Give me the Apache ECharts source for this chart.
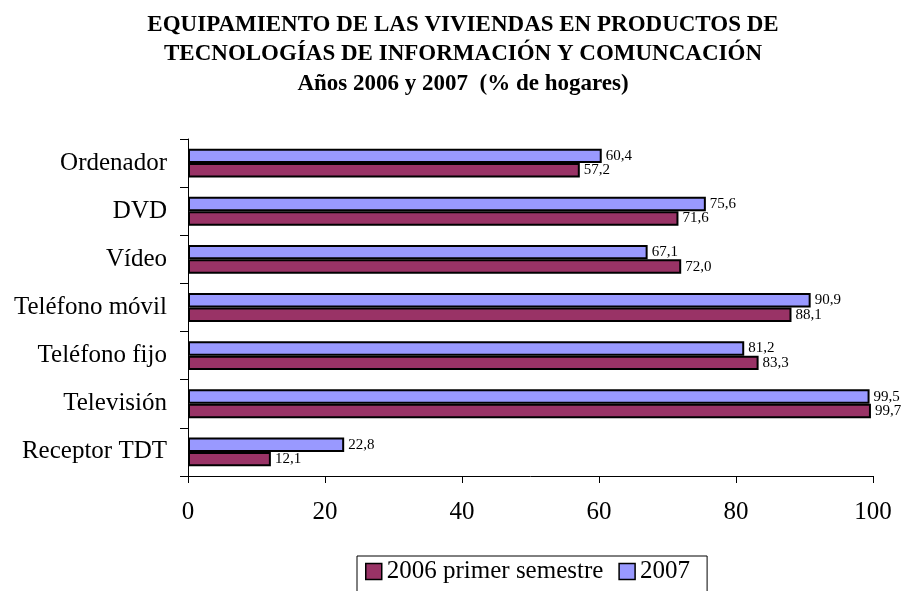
<!DOCTYPE html>
<html>
<head>
<meta charset="utf-8">
<script src="https://cdn.jsdelivr.net/npm/echarts@6/dist/echarts.min.js"></script>
<style>
    html, body { margin: 0; padding: 0; background: #fff; }
    #chart { width: 908px; height: 591px; }
</style>
</head>
<body>
<div id="chart"></div>
<script>
    // categorias de abajo hacia arriba (eje vertical)
    var categories = ['Receptor TDT', 'Televisión', 'Teléfono fijo', 'Teléfono móvil', 'Vídeo', 'DVD', 'Ordenador'];
    var seriesNames = ['2006 primer semestre', '2007'];
    var values2006 = [12.1, 99.7, 83.3, 88.1, 72.0, 71.6, 57.2];
    var values2007 = [22.8, 99.5, 81.2, 90.9, 67.1, 75.6, 60.4];
    var xTicks = [0, 20, 40, 60, 80, 100];

    var serif = '"Liberation Serif", "DejaVu Serif", serif';

    function fmt(p) {
        return p.value.toFixed(1).replace('.', ',');
    }

    function barSeries(name, data, color) {
        return {
            name: name,
            type: 'bar',
            data: data,
            barGap: '0%',
            barCategoryGap: '40%',
            itemStyle: { color: color, borderColor: '#000', borderWidth: 2 },
            label: {
                show: true,
                position: 'right',
                distance: 4,
                formatter: fmt,
                fontFamily: serif,
                fontSize: 15,
                color: '#000'
            }
        };
    }

    var chart = echarts.init(document.getElementById('chart'));
    chart.setOption({
        animation: false,
        title: {
            text: 'EQUIPAMIENTO DE LAS VIVIENDAS EN PRODUCTOS DE\nTECNOLOGÍAS DE INFORMACIÓN Y COMUNCACIÓN\nAños 2006 y 2007  (% de hogares)',
            left: 458,
            top: 5,
            textAlign: 'center',
            textStyle: {
                fontFamily: serif,
                fontSize: 23,
                fontWeight: 'bold',
                color: '#000',
                lineHeight: 29.5,
                align: 'center'
            }
        },
        legend: {
            data: seriesNames,
            left: 357,
            top: 556,
            padding: [3, 17, 12, 8],
            borderColor: '#000',
            borderWidth: 1,
            itemWidth: 16,
            itemHeight: 16,
            itemGap: 15,
            icon: 'rect',
            itemStyle: { borderColor: '#000', borderWidth: 1.5 },
            textStyle: { fontFamily: serif, fontSize: 25, color: '#000' }
        },
        grid: {
            left: 188,
            right: 35,
            top: 139,
            bottom: 115,
            containLabel: false
        },
        xAxis: {
            type: 'value',
            min: xTicks[0],
            max: xTicks[xTicks.length - 1],
            interval: 20,
            splitLine: { show: false },
            axisLine: { show: true, lineStyle: { color: '#000', width: 1 } },
            axisTick: { show: true, length: 7, lineStyle: { color: '#000' } },
            axisLabel: { fontFamily: serif, fontSize: 25, color: '#000', margin: 24 }
        },
        yAxis: {
            type: 'category',
            data: categories,
            axisLine: { show: true, lineStyle: { color: '#000', width: 1 } },
            axisTick: { show: true, length: 8, lineStyle: { color: '#000' } },
            axisLabel: { fontFamily: serif, fontSize: 25, color: '#000', margin: 21 }
        },
        // 2007 primero para que quede arriba dentro de cada categoria
        series: [
            barSeries(seriesNames[1], values2007, '#9999FF'),
            barSeries(seriesNames[0], values2006, '#993366')
        ]
    });
</script>
</body>
</html>
